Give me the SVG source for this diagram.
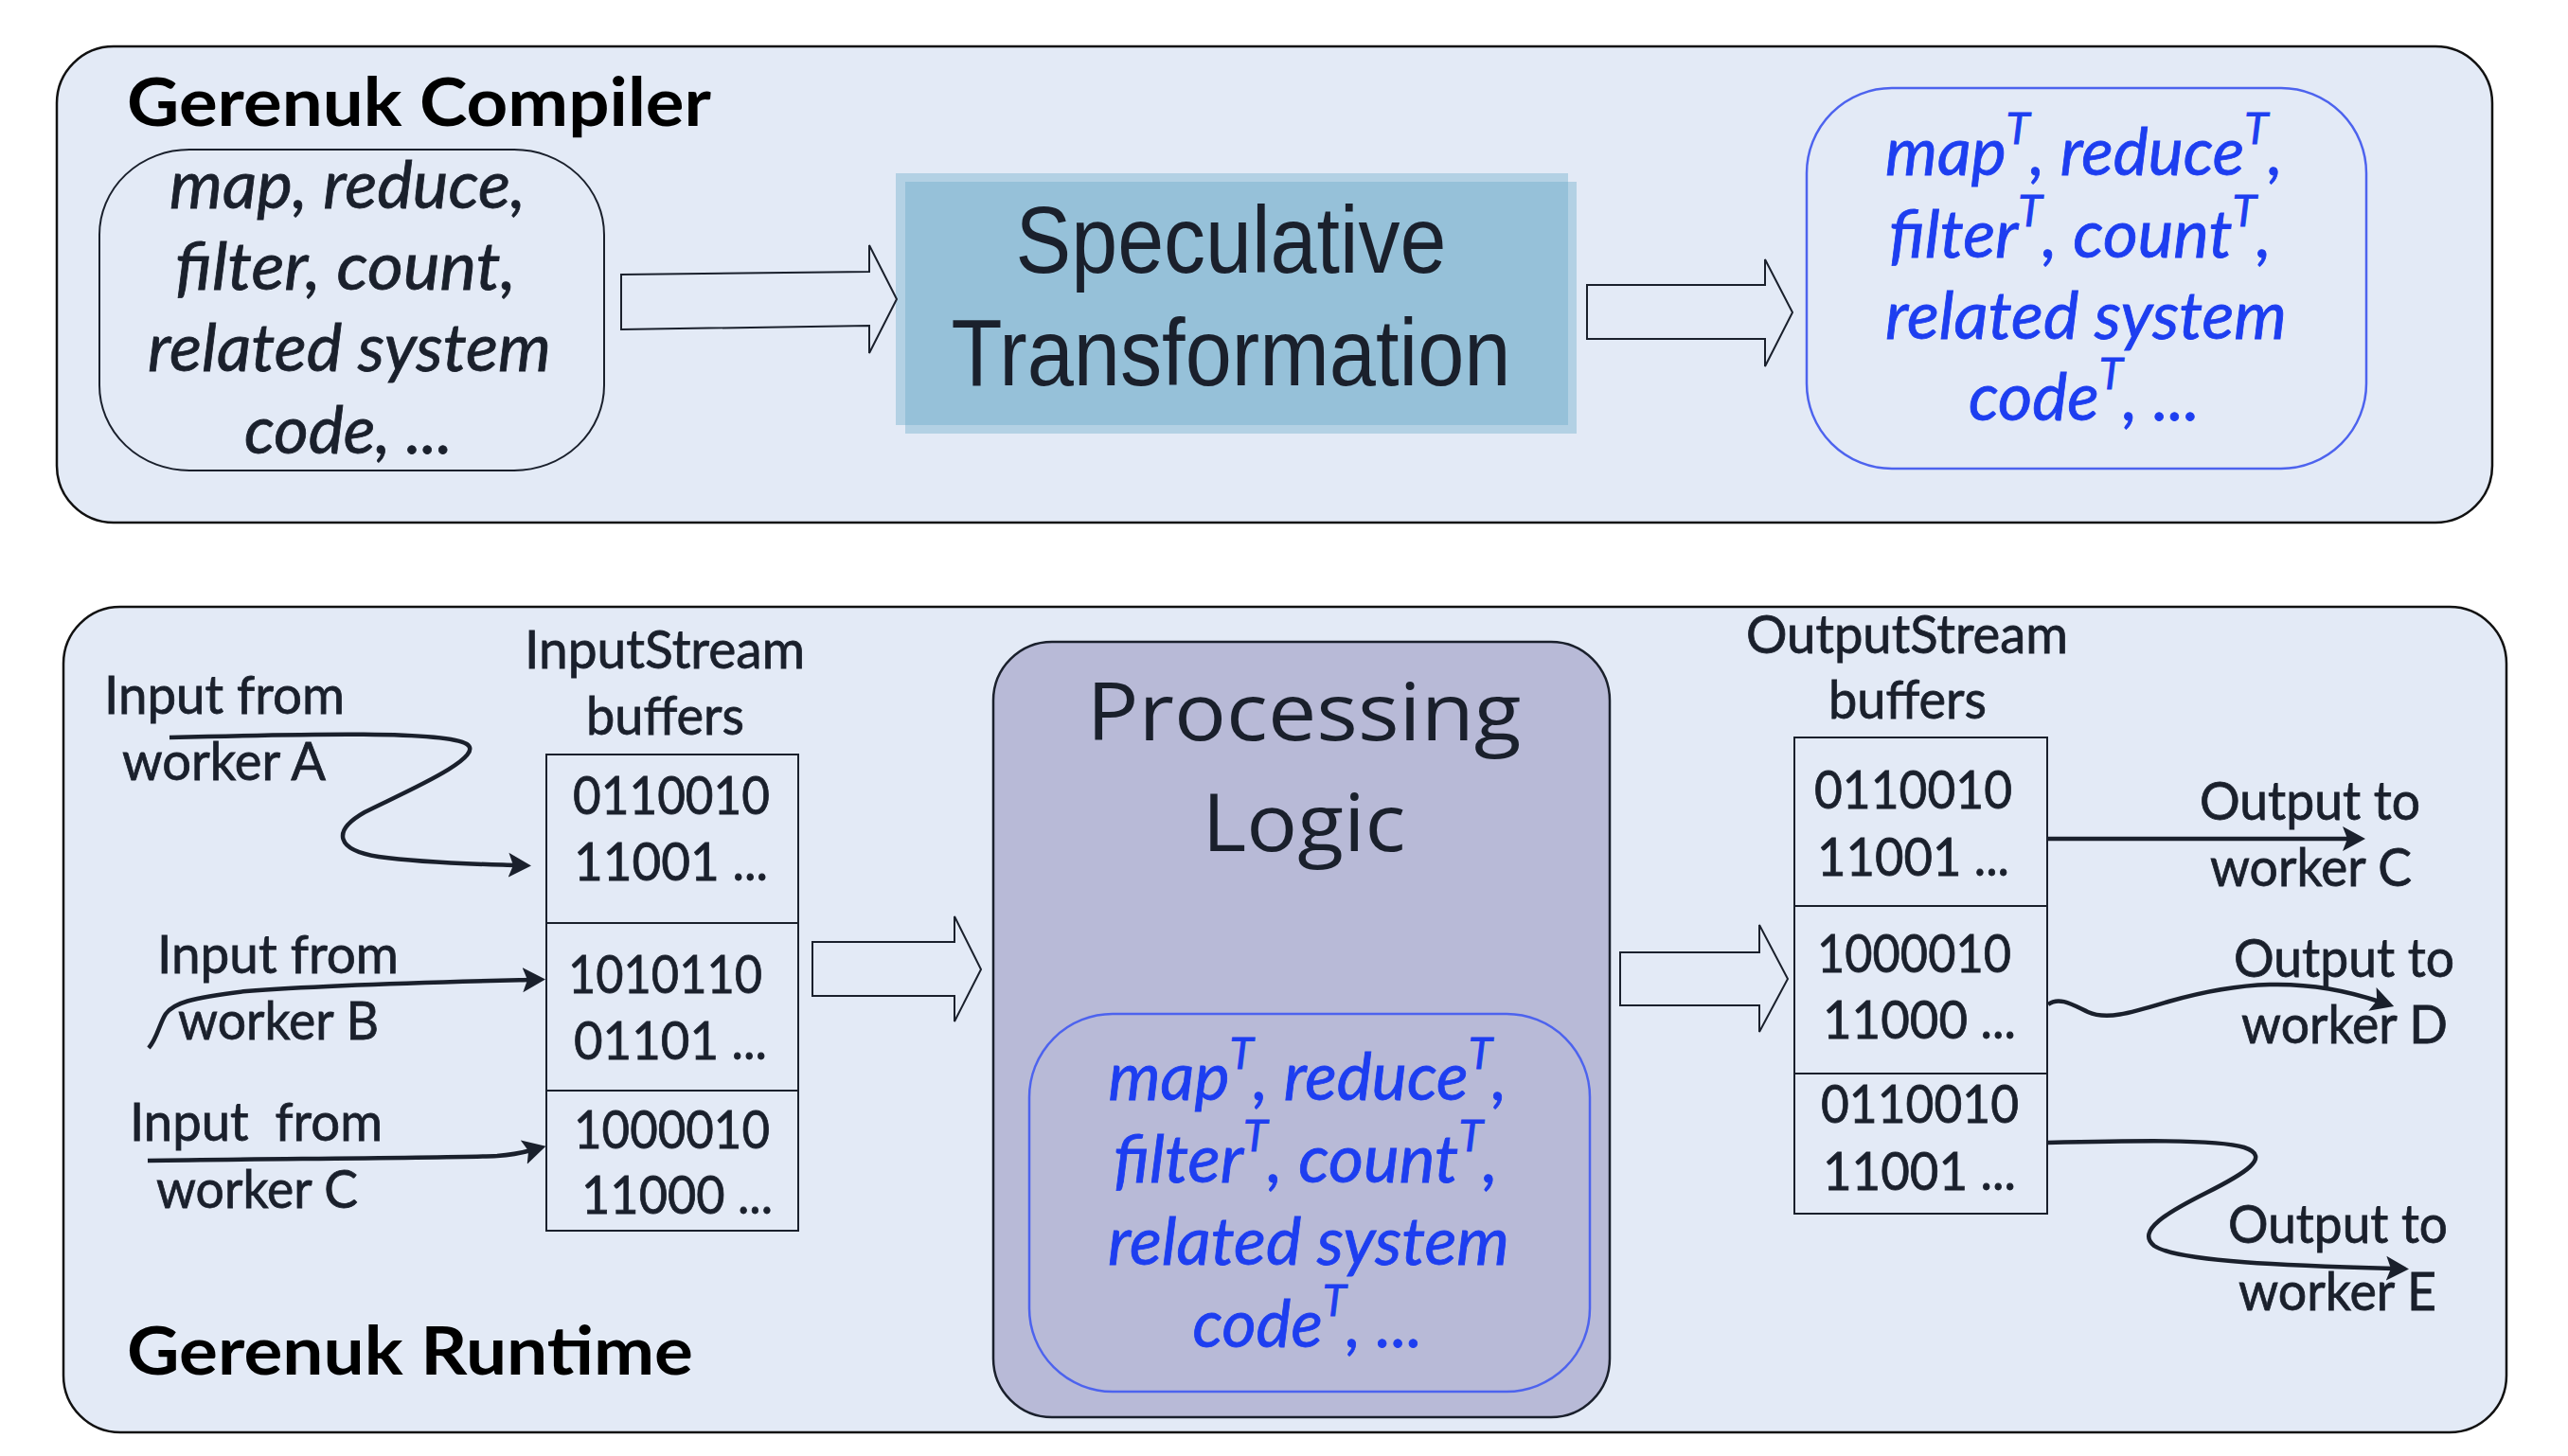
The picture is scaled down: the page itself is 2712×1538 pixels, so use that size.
<svg xmlns="http://www.w3.org/2000/svg" width="2712" height="1538" viewBox="0 0 2712 1538">
<defs>
<style>
.panel{fill:#e3eaf6;stroke:#111;stroke-width:2.5}
.box{fill:#e3eaf6;stroke:#1a202c;stroke-width:2}
.blk{fill:#e3eaf6;stroke:#1a202c;stroke-width:2;stroke-linejoin:miter}
.bluebox{fill:none;stroke:#4d63ee;stroke-width:2.5}
.t{font-family:Lato,"Open Sans","Liberation Sans",sans-serif;fill:#1a202c;stroke:#1a202c;stroke-width:0.8}
.lbl{font-size:56px}
.bold{font-weight:bold;font-size:70px;fill:#000;stroke:none}
.it{font-style:italic;font-size:70px}
.blue{fill:#1d3ef0;stroke:#1d3ef0}
.sup{font-size:46px}
.arial{font-family:"Liberation Sans",Arial,sans-serif;fill:#1a202c;font-size:100px}
.os{font-family:"Open Sans",Lato,sans-serif;fill:#1a202c;font-size:84px}
.curve{fill:none;stroke:#1a202c;stroke-width:4.5}
</style>
<marker id="ah" markerUnits="userSpaceOnUse" markerWidth="30" markerHeight="30" viewBox="0 -15 30 30" refX="8" refY="0" orient="auto">
<path d="M0,-13 L24,0 L0,13 L5,0 Z" fill="#1a202c"/>
</marker>
</defs>

<g id="compiler-panel">
<rect class="panel" x="60" y="49" width="2572" height="503" rx="60" ry="60"/>
<text class="t bold" x="134" y="133" textLength="617" lengthAdjust="spacingAndGlyphs">Gerenuk Compiler</text>
</g>

<g id="source-code">
<rect class="box" x="105" y="158" width="533" height="339" rx="95" ry="90"/>
<text class="t it" x="367" y="220" text-anchor="middle" textLength="376" lengthAdjust="spacingAndGlyphs">map, reduce,</text>
<text class="t it" x="365" y="306" text-anchor="middle" textLength="360" lengthAdjust="spacingAndGlyphs">filter, count,</text>
<text class="t it" x="369" y="392" text-anchor="middle" textLength="426" lengthAdjust="spacingAndGlyphs">related system</text>
<text class="t it" x="368" y="479" text-anchor="middle" textLength="220" lengthAdjust="spacingAndGlyphs">code, ...</text>
</g>

<g id="speculative-transformation">
<rect x="946" y="183" width="710" height="266" fill="#b3d1e4"/>
<rect x="956" y="192" width="709" height="266" fill="#b3d1e4"/>
<rect x="956" y="192" width="700" height="257" fill="#96c1d9"/>
<text class="arial" x="1300" y="288" text-anchor="middle" textLength="455" lengthAdjust="spacingAndGlyphs">Speculative</text>
<text class="arial" x="1300" y="407" text-anchor="middle" textLength="591" lengthAdjust="spacingAndGlyphs">Transformation</text>
</g>

<g id="transformed-code">
<rect class="bluebox" x="1908" y="93" width="591" height="402" rx="90" ry="90"/>
<text class="t it blue" x="2201" y="185" text-anchor="middle" textLength="420" lengthAdjust="spacingAndGlyphs">map<tspan class="sup" dy="-33">T</tspan><tspan dy="33">, reduce</tspan><tspan class="sup" dy="-33">T</tspan><tspan dy="33">,</tspan></text>
<text class="t it blue" x="2197" y="272" text-anchor="middle" textLength="404" lengthAdjust="spacingAndGlyphs">filter<tspan class="sup" dy="-33">T</tspan><tspan dy="33">, count</tspan><tspan class="sup" dy="-33">T</tspan><tspan dy="33">,</tspan></text>
<text class="t it blue" x="2203" y="358" text-anchor="middle" textLength="424" lengthAdjust="spacingAndGlyphs">related system</text>
<text class="t it blue" x="2201" y="444" text-anchor="middle" textLength="244" lengthAdjust="spacingAndGlyphs">code<tspan class="sup" dy="-33">T</tspan><tspan dy="33">, ...</tspan></text>
</g>

<g id="runtime-panel">
<rect class="panel" x="67" y="641" width="2580" height="872" rx="60" ry="60"/>
<text class="t bold" x="134" y="1452" textLength="598" lengthAdjust="spacingAndGlyphs">Gerenuk Runtime</text>
</g>

<g id="input-labels">
<text class="t lbl" x="110" y="754" textLength="254" lengthAdjust="spacingAndGlyphs">Input from</text>
<text class="t lbl" x="129" y="824" textLength="215" lengthAdjust="spacingAndGlyphs">worker A</text>
<text class="t lbl" x="166" y="1028" textLength="255" lengthAdjust="spacingAndGlyphs">Input from</text>
<text class="t lbl" x="188" y="1098" textLength="212" lengthAdjust="spacingAndGlyphs">worker B</text>
<text class="t lbl" x="137" y="1205" textLength="267" lengthAdjust="spacingAndGlyphs" style="white-space:pre">Input  from</text>
<text class="t lbl" x="165" y="1276" textLength="213" lengthAdjust="spacingAndGlyphs">worker C</text>
</g>

<g id="input-buffers">
<text class="t lbl" x="554" y="706" textLength="296" lengthAdjust="spacingAndGlyphs">InputStream</text>
<text class="t lbl" x="619" y="776" textLength="167" lengthAdjust="spacingAndGlyphs">buffers</text>
<rect class="box" x="577" y="797" width="266" height="503"/>
<line class="box" x1="577" y1="975" x2="843" y2="975"/>
<line class="box" x1="577" y1="1152" x2="843" y2="1152"/>
<text class="t lbl" x="605" y="860" textLength="208" lengthAdjust="spacingAndGlyphs">0110010</text>
<text class="t lbl" x="606" y="930" textLength="205" lengthAdjust="spacingAndGlyphs">11001 ...</text>
<text class="t lbl" x="600" y="1049" textLength="205" lengthAdjust="spacingAndGlyphs">1010110</text>
<text class="t lbl" x="606" y="1119" textLength="204" lengthAdjust="spacingAndGlyphs">01101 ...</text>
<text class="t lbl" x="606" y="1213" textLength="207" lengthAdjust="spacingAndGlyphs">1000010</text>
<text class="t lbl" x="614" y="1282" textLength="202" lengthAdjust="spacingAndGlyphs">11000 ...</text>
</g>

<g id="processing-logic">
<rect x="1049" y="678" width="651" height="819" rx="62" ry="62" fill="#b8bad7" stroke="#1a202c" stroke-width="2.5"/>
<text class="os" x="1377" y="782" text-anchor="middle" textLength="459" lengthAdjust="spacingAndGlyphs">Processing</text>
<text class="os" x="1377" y="899" text-anchor="middle" textLength="215" lengthAdjust="spacingAndGlyphs">Logic</text>
<rect class="bluebox" x="1087" y="1071" width="592" height="399" rx="88" ry="88"/>
<text class="t it blue" x="1381" y="1162" text-anchor="middle" textLength="421" lengthAdjust="spacingAndGlyphs">map<tspan class="sup" dy="-33">T</tspan><tspan dy="33">, reduce</tspan><tspan class="sup" dy="-33">T</tspan><tspan dy="33">,</tspan></text>
<text class="t it blue" x="1379" y="1249" text-anchor="middle" textLength="406" lengthAdjust="spacingAndGlyphs">filter<tspan class="sup" dy="-33">T</tspan><tspan dy="33">, count</tspan><tspan class="sup" dy="-33">T</tspan><tspan dy="33">,</tspan></text>
<text class="t it blue" x="1382" y="1336" text-anchor="middle" textLength="424" lengthAdjust="spacingAndGlyphs">related system</text>
<text class="t it blue" x="1381" y="1423" text-anchor="middle" textLength="243" lengthAdjust="spacingAndGlyphs">code<tspan class="sup" dy="-33">T</tspan><tspan dy="33">, ...</tspan></text>
</g>

<g id="output-buffers">
<text class="t lbl" x="1844" y="690" textLength="340" lengthAdjust="spacingAndGlyphs">OutputStream</text>
<text class="t lbl" x="1931" y="759" textLength="167" lengthAdjust="spacingAndGlyphs">buffers</text>
<rect class="box" x="1895" y="779" width="267" height="503"/>
<line class="box" x1="1895" y1="957" x2="2162" y2="957"/>
<line class="box" x1="1895" y1="1134" x2="2162" y2="1134"/>
<text class="t lbl" x="1916" y="854" textLength="209" lengthAdjust="spacingAndGlyphs">0110010</text>
<text class="t lbl" x="1919" y="925" textLength="203" lengthAdjust="spacingAndGlyphs">11001 ...</text>
<text class="t lbl" x="1919" y="1027" textLength="205" lengthAdjust="spacingAndGlyphs">1000010</text>
<text class="t lbl" x="1925" y="1097" textLength="204" lengthAdjust="spacingAndGlyphs">11000 ...</text>
<text class="t lbl" x="1923" y="1186" textLength="209" lengthAdjust="spacingAndGlyphs">0110010</text>
<text class="t lbl" x="1925" y="1257" textLength="204" lengthAdjust="spacingAndGlyphs">11001 ...</text>
</g>

<g id="output-labels">
<text class="t lbl" x="2323" y="866" textLength="233" lengthAdjust="spacingAndGlyphs">Output to</text>
<text class="t lbl" x="2334" y="936" textLength="213" lengthAdjust="spacingAndGlyphs">worker C</text>
<text class="t lbl" x="2359" y="1032" textLength="233" lengthAdjust="spacingAndGlyphs">Output to</text>
<text class="t lbl" x="2367" y="1102" textLength="218" lengthAdjust="spacingAndGlyphs">worker D</text>
<text class="t lbl" x="2353" y="1313" textLength="232" lengthAdjust="spacingAndGlyphs">Output to</text>
<text class="t lbl" x="2364" y="1384" textLength="209" lengthAdjust="spacingAndGlyphs">worker E</text>
</g>

<g id="connectors">
<path class="blk" d="M656,290 L918,287 L918,259 L947,316 L918,373 L918,344 L656,348 Z"/>
<path class="blk" d="M1676,301 L1864,301 L1864,274 L1893,330 L1864,387 L1864,358 L1676,358 Z"/>
<path class="blk" d="M858,995 L1008,995 L1008,968 L1036,1024 L1008,1079 L1008,1052 L858,1052 Z"/>
<path class="blk" d="M1711,1006 L1858,1006 L1858,977 L1888,1034 L1858,1090 L1858,1062 L1711,1062 Z"/>
<path class="curve" marker-end="url(#ah)" d="M179,779 C330,775 470,772 493,786 C515,800 420,840 385,858 C350,878 355,898 400,905 C450,912 515,913 545,914"/>
<path class="curve" marker-end="url(#ah)" d="M157,1107 C166,1097 168,1082 175,1071 C183,1060 200,1054 260,1047 C350,1040 480,1037 560,1035"/>
<path class="curve" marker-end="url(#ah)" d="M156,1226 C300,1224 480,1223 525,1221 C540,1220 550,1218 561,1215"/>
<path class="curve" marker-end="url(#ah)" d="M2162,886 L2482,886"/>
<path class="curve" marker-end="url(#ah)" d="M2163,1061 C2175,1052 2190,1062 2205,1069 C2225,1078 2250,1070 2290,1058 C2360,1038 2430,1030 2513,1058"/>
<path class="curve" marker-end="url(#ah)" d="M2162,1207 C2250,1205 2340,1203 2370,1212 C2400,1222 2370,1240 2330,1260 C2290,1280 2255,1300 2275,1316 C2300,1333 2420,1337 2528,1340"/>
</g>
</svg>
